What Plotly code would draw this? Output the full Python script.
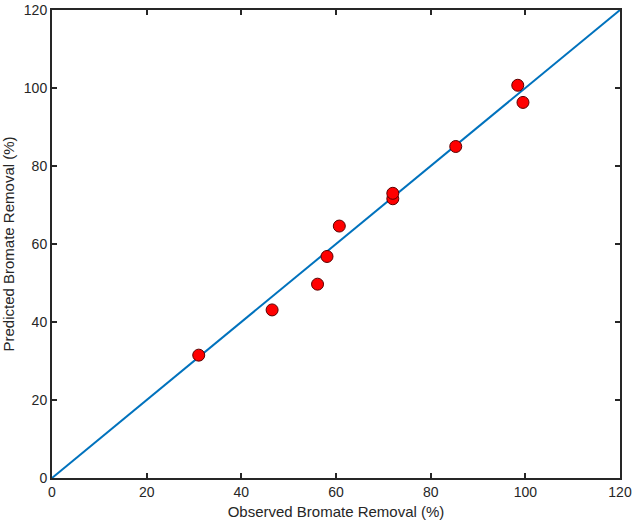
import plotly.graph_objects as go

observed = [31.0, 46.5, 56.1, 58.1, 60.7, 72.0, 72.0, 85.3, 98.4, 99.5]
predicted = [31.5, 43.1, 49.7, 56.8, 64.6, 71.6, 73.0, 85.0, 100.7, 96.3]
ref_line = [0, 120]
tick_vals = [0, 20, 40, 60, 80, 100, 120]

fig = go.Figure()
fig.add_trace(
    go.Scatter(
        x=ref_line,
        y=ref_line,
        mode="lines",
        line=dict(color="#0072BD", width=2),
        showlegend=False,
        cliponaxis=False,
    )
)
fig.add_trace(
    go.Scatter(
        x=observed,
        y=predicted,
        mode="markers",
        marker=dict(color="#FF0000", size=12, line=dict(color="#5a0000", width=1)),
        showlegend=False,
    )
)

axis_style = dict(
    range=[0, 120],
    tickvals=tick_vals,
    ticks="inside",
    ticklen=5,
    tickwidth=1.5,
    tickcolor="#262626",
    showline=True,
    linecolor="#262626",
    linewidth=2,
    mirror="ticks",
    showgrid=False,
    zeroline=False,
    automargin=False,
    tickfont=dict(family="Liberation Sans, Arial", size=14, color="#262626"),
    title_font=dict(family="Liberation Sans, Arial", size=15, color="#262626"),
)

fig.update_layout(
    width=640,
    height=524,
    margin=dict(l=52, r=20, t=10, b=46),
    plot_bgcolor="white",
    paper_bgcolor="white",
    xaxis=dict(axis_style, title=dict(text="Observed Bromate Removal (%)", standoff=8)),
    yaxis=dict(axis_style, title=dict(text="Predicted Bromate Removal (%)", standoff=6)),
)

# page body has a default 8px margin, drop it so the figure sits at the corner
fig.write_html(
    "out.html",
    config={"displayModeBar": False},
    post_script="document.body.style.margin='0';",
)
